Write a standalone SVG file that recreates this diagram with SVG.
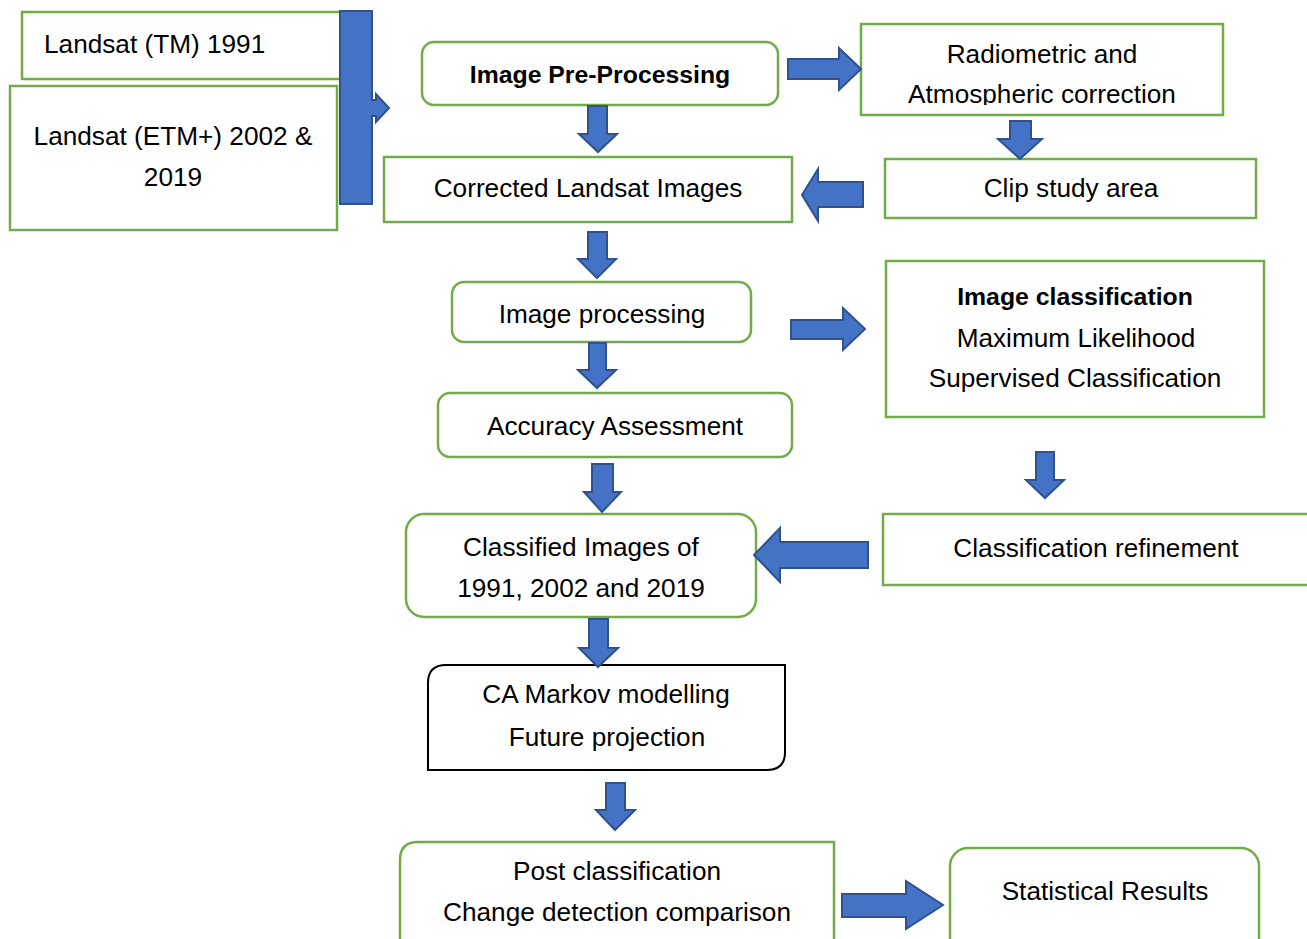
<svg xmlns="http://www.w3.org/2000/svg" width="1307" height="939" viewBox="0 0 1307 939">
<style>
.box{fill:#fff;stroke:#70AD47;stroke-width:2.5}
.blk{fill:#fff;stroke:#000;stroke-width:2}
.arr{fill:#4472C4;stroke:#2F528F;stroke-width:2;stroke-linejoin:miter}
text{font-family:"Liberation Sans",Arial,sans-serif;font-size:26.2px;fill:#000}
.c{text-anchor:middle}
.b{font-weight:bold;font-size:24.8px}
</style>
<defs>
<clipPath id="radclip"><rect x="861" y="24" width="362" height="81"/></clipPath>
</defs>
<rect width="1307" height="939" fill="#fff"/>
<g id="n-landsat-tm"><rect class="box" x="22" y="12" width="323" height="67"/><text x="44" y="53">Landsat (TM) 1991</text></g>
<g id="n-landsat-etm"><rect class="box" x="10" y="86" width="327" height="144"/><text class="c" x="173" y="145">Landsat (ETM+) 2002 &amp;</text><text class="c" x="173" y="186">2019</text></g>
<g id="n-preproc"><rect class="box" x="422" y="42" width="356" height="63" rx="12"/><text class="c b" x="600" y="83">Image Pre-Processing</text></g>
<g id="n-radiometric"><rect class="box" x="861" y="24" width="362" height="91"/><text class="c" x="1042" y="63">Radiometric and</text><text class="c" x="1042" y="103" clip-path="url(#radclip)">Atmospheric correction</text></g>
<g id="n-clip"><rect class="box" x="885" y="159" width="371" height="59"/><text class="c" x="1071" y="197">Clip study area</text></g>
<g id="n-corrected"><rect class="box" x="384" y="157" width="408" height="65"/><text class="c" x="588" y="197">Corrected Landsat Images</text></g>
<g id="n-imgproc"><rect class="box" x="452" y="282" width="299" height="60" rx="12"/><text class="c" x="602" y="323">Image processing</text></g>
<g id="n-imgclass"><rect class="box" x="886" y="261" width="378" height="156"/><text class="c b" x="1075" y="305">Image classification</text><text class="c" x="1076" y="347">Maximum Likelihood</text><text class="c" x="1075" y="387">Supervised Classification</text></g>
<g id="n-accuracy"><rect class="box" x="438" y="393" width="354" height="64" rx="12"/><text class="c" x="615" y="435">Accuracy Assessment</text></g>
<g id="n-refinement"><rect class="box" x="883" y="514" width="430" height="71"/><text class="c" x="1096" y="557">Classification refinement</text></g>
<g id="n-classified"><rect class="box" x="406" y="514" width="350" height="103" rx="18"/><text class="c" x="581" y="556">Classified Images of</text><text class="c" x="581" y="597">1991, 2002 and 2019</text></g>
<g id="n-camarkov"><path class="blk" d="M446 665 H785 V752 Q785 770 767 770 H428 V683 Q428 665 446 665 Z"/><text class="c" x="606" y="703">CA Markov modelling</text><text class="c" x="607" y="746">Future projection</text></g>
<g id="n-post"><path class="box" d="M400 960 V860 Q400 842 418 842 H834 V960"/><text class="c" x="617" y="880">Post classification</text><text class="c" x="617" y="921">Change detection comparison</text></g>
<g id="n-stats"><rect class="box" x="950" y="848" width="309" height="120" rx="18"/><text class="c" x="1105" y="900">Statistical Results</text></g>
<g id="connectors">
<polygon class="arr" points="340,11 372,11 372,100 376,100 376,94 389,108 376,122 376,116 372,116 372,204 340,204"/>
<polygon class="arr" points="788,59 839,59 839,48 861,69 839,90 839,79 788,79"/>
<polygon class="arr" points="1010,121 1031,121 1031,139 1042,139 1020,159 998,139 1010,139"/>
<polygon class="arr" points="863,182 818,182 818,169 802,195 818,221 818,207 863,207"/>
<polygon class="arr" points="588,106 607,106 607,134 617,134 598,152 579,134 588,134"/>
<polygon class="arr" points="588,232 607,232 607,259 616,259 597,278 578,259 588,259"/>
<polygon class="arr" points="589,343 606,343 606,370 616,370 597,388 578,370 589,370"/>
<polygon class="arr" points="791,320 843,320 843,308 865,329 843,350 843,339 791,339"/>
<polygon class="arr" points="592,464 613,464 613,492 621,492 602,512 584,492 592,492"/>
<polygon class="arr" points="1036,452 1054,452 1054,480 1064,480 1045,498 1026,480 1036,480"/>
<polygon class="arr" points="868,542 780,542 780,528 754,555 780,582 780,568 868,568"/>
<polygon class="arr" points="589,619 608,619 608,648 618,648 598,667 579,648 589,648"/>
<polygon class="arr" points="606,783 625,783 625,810 635,810 615,830 596,810 606,810"/>
<polygon class="arr" points="842,894 906,894 906,881 943,905 906,929 906,917 842,917"/>
</g>
</svg>
